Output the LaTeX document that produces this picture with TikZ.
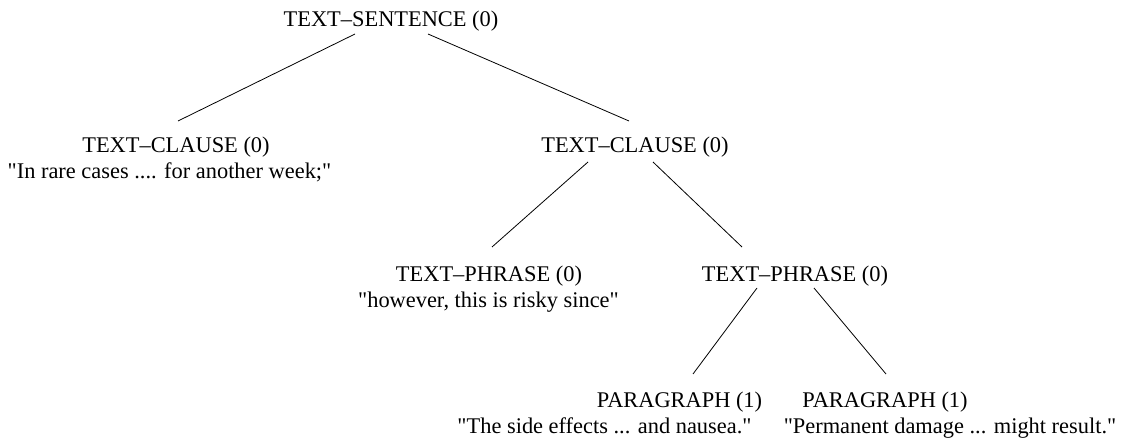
\documentclass[tikz,border=0pt]{standalone}
\usepackage{fontspec}
\setmainfont{Liberation Serif}[Ligatures=TeXOff]
\begin{document}
\begin{tikzpicture}[x=1pt,y=-1pt,
  lbl/.style={inner sep=0pt,anchor=base,font=\fontsize{22.4}{26}\selectfont},
  edge/.style={draw=black,line width=0.8pt}]
\useasboundingbox (0,0) rectangle (1146,446);
% titles
\node[lbl] (root) at (391,27) {TEXT–SENTENCE (0)};
\node[lbl] (c1) at (176,153) {TEXT–CLAUSE (0)};
\node[lbl] (c1t) at (169.5,179) {"In rare cases .... for another week;"};
\node[lbl] (c2) at (635,153) {TEXT–CLAUSE (0)};
\node[lbl] (p1) at (489,281.5) {TEXT–PHRASE (0)};
\node[lbl] (p1t) at (488.5,307.5) {"however, this is risky since"};
\node[lbl] (p2) at (795,281.5) {TEXT–PHRASE (0)};
\node[lbl] (a1) at (679.5,407.5) {PARAGRAPH (1)};
\node[lbl] (a1t) at (604.5,433.5) {"The side effects ... and nausea."};
\node[lbl] (a2) at (885,407.5) {PARAGRAPH (1)};
\node[lbl] (a2t) at (950,433.5) {"Permanent damage ... might result."};
% connectors
\draw[edge] ([shift={(-36,7)}]root.base) -- ([shift={(2,-32)}]c1.base);
\draw[edge] ([shift={(37,7)}]root.base) -- ([shift={(-6,-32)}]c2.base);
\draw[edge] ([shift={(-47,9)}]c2.base) -- ([shift={(3,-34.5)}]p1.base);
\draw[edge] ([shift={(18,9)}]c2.base) -- ([shift={(-53,-34.5)}]p2.base);
\draw[edge] ([shift={(-38,6.5)}]p2.base) -- ([shift={(13.5,-33.5)}]a1.base);
\draw[edge] ([shift={(19,6.5)}]p2.base) -- ([shift={(1,-33.5)}]a2.base);
\end{tikzpicture}
\end{document}
